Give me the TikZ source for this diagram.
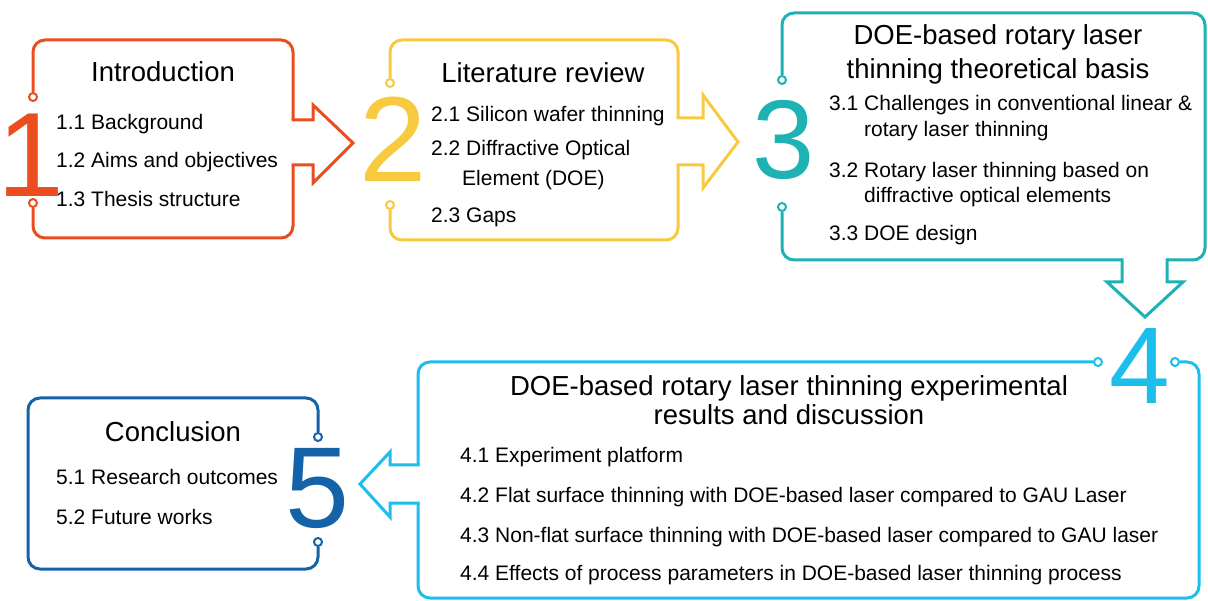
\documentclass[tikz,border=0pt]{standalone}
\usepackage{fontspec}
\setmainfont{Liberation Sans}
\usepackage{tikz}

\definecolor{introred}{RGB}{234,78,30}
\definecolor{lityellow}{RGB}{248,202,64}
\definecolor{theoteal}{RGB}{30,178,180}
\definecolor{expblue}{RGB}{28,190,236}
\definecolor{concblue}{RGB}{20,98,168}

\begin{document}
\begin{tikzpicture}
[x=1pt,y=-1pt]
\tikzset{
	heading/.style = {inner sep=0, anchor=base, font=\fontsize{27.5}{33}\selectfont},
	entry/.style = {inner sep=0, anchor=base west, font=\fontsize{21}{25}\selectfont},
	digit/.style = {inner sep=0, font=\fontsize{#1}{#1}\selectfont},
	joint/.style = {circle, draw=#1, fill=white, line width=2pt, inner sep=0, minimum size=8pt},
	outline/.style = {draw=#1, line width=3pt, rounded corners=12pt},
	blockarrow/.style = {draw=#1, line width=3pt, line cap=rect, line join=miter}
}

\useasboundingbox (0,0) rectangle (1208,601);

\node[digit=120, text=introred] (n1) at (31,155) {1};
\node[joint=introred] (j1a) at (33,97) {};
\node[joint=introred] (j1b) at (33,203) {};
\node[heading] (h1) at (163,82) {Introduction};
\node[entry] (e11) at (56,130) {1.1 Background};
\node[entry] (e12) at (56,168) {1.2 Aims and objectives};
\node[entry] (e13) at (56,207) {1.3 Thesis structure};

\draw[outline=introred] (j1a) -- (33,40) -- (293,40) -- (293,120);
\draw[blockarrow=introred] (293,120) -- (313,120) -- (313,105) -- (353,143) -- (313,183) -- (313,165) -- (293,165);
\draw[outline=introred] (293,165) -- (293,238) -- (33,238) -- (j1b);

\node[digit=121, text=lityellow] (n2) at (393,139) {2};
\node[joint=lityellow] (j2a) at (390,83) {};
\node[joint=lityellow] (j2b) at (390,205) {};
\node[heading] (h2) at (543,83) {Literature review};
\node[entry] (e21) at (431,122) {2.1 Silicon wafer thinning};
\node[entry] (e22) at (431,156) {2.2 Diffractive Optical};
\node[entry] (e22b) at (462,186) {Element (DOE)};
\node[entry] (e23) at (431,223) {2.3 Gaps};

\draw[outline=lityellow] (j2a) -- (390,40) -- (678,40) -- (678,118);
\draw[blockarrow=lityellow] (678,118) -- (703,118) -- (703,95) -- (738,142) -- (703,188) -- (703,165) -- (678,165);
\draw[outline=lityellow] (678,165) -- (678,240) -- (390,240) -- (j2b);

\node[digit=112, text=theoteal] (n3) at (784,140) {3};
\node[joint=theoteal] (j3a) at (782,80) {};
\node[joint=theoteal] (j3b) at (782,207) {};
\node[heading] (h3) at (998,45) {DOE-based rotary laser};
\node[heading] (h3b) at (998,79) {thinning theoretical basis};
\node[entry] (e31) at (829,111) {3.1 Challenges in conventional linear \&};
\node[entry] (e31b) at (864,137) {rotary laser thinning};
\node[entry] (e32) at (829,178) {3.2 Rotary laser thinning based on};
\node[entry] (e32b) at (864,203) {diffractive optical elements};
\node[entry] (e33) at (829,241) {3.3 DOE design};

\draw[outline=theoteal] (j3a) -- (782,13) -- (1205,13) -- (1205,260) -- (1167,260);
\draw[blockarrow=theoteal] (1167,260) -- (1167,282) -- (1183,282) -- (1145,317) -- (1107,282) -- (1122,282) -- (1122,260);
\draw[outline=theoteal] (1122,260) -- (782,260) -- (j3b);

\node[digit=109, text=expblue] (n4) at (1140,366) {4};
\node[joint=expblue] (j4a) at (1098,362) {};
\node[joint=expblue] (j4b) at (1175,362) {};
\node[heading] (h4) at (789,396) {DOE-based rotary laser thinning experimental};
\node[heading] (h4b) at (789,425) {results and discussion};
\node[entry] (e41) at (460,463) {4.1 Experiment platform};
\node[entry] (e42) at (460,503) {4.2 Flat surface thinning with DOE-based laser compared to GAU Laser};
\node[entry] (e43) at (460,542) {4.3 Non-flat surface thinning with DOE-based laser compared to GAU laser};
\node[entry] (e44) at (460,580) {4.4 Effects of process parameters in DOE-based laser thinning process};

\draw[outline=expblue] (j4a) -- (418,362) -- (418,465);
\draw[blockarrow=expblue] (418,465) -- (390,465) -- (390,452) -- (360,484) -- (390,517) -- (390,503) -- (418,503);
\draw[outline=expblue] (418,503) -- (418,598) -- (1199,598) -- (1199,362) -- (j4b);

\node[digit=115, text=concblue] (n5) at (317,489) {5};
\node[joint=concblue] (j5a) at (318,437) {};
\node[joint=concblue] (j5b) at (318,542) {};
\node[heading] (h5) at (173,442) {Conclusion};
\node[entry] (e51) at (56,485) {5.1 Research outcomes};
\node[entry] (e52) at (56,524) {5.2 Future works};

\draw[outline=concblue] (j5a) -- (318,398) -- (28,398) -- (28,569) -- (318,569) -- (j5b);

\end{tikzpicture}
\end{document}
